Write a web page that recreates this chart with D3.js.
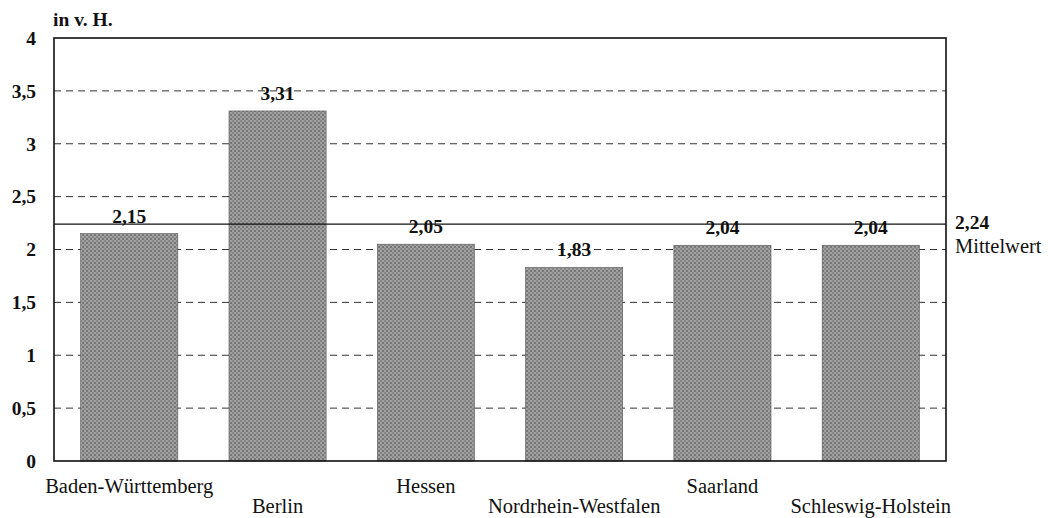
<!DOCTYPE html>
<html>
<head>
<meta charset="utf-8">
<script src="https://cdn.jsdelivr.net/npm/d3@7"></script>
<style>
  body { margin: 0; background: #fff; }
  text { font-family: "Liberation Serif", "Times New Roman", serif; fill: #111; }
</style>
</head>
<body>
<svg id="chart" width="1048" height="518"></svg>
<script>
const categories = ["Baden-Württemberg", "Berlin", "Hessen", "Nordrhein-Westfalen", "Saarland", "Schleswig-Holstein"]
const values = [2.15, 3.31, 2.05, 1.83, 2.04, 2.04]
const meanValue = 2.24
const yTicks = [0, 0.5, 1, 1.5, 2, 2.5, 3, 3.5, 4]

const fmt = v => String(v).replace(".", ",")

const margin = {top: 38, right: 102, bottom: 57, left: 54}
const width = 1048 - margin.left - margin.right
const height = 518 - margin.top - margin.bottom

const svg = d3.select("#chart")

// dithered grey fill like the printed original
const defs = svg.append("defs")
const pat = defs.append("pattern")
  .attr("id", "dither")
  .attr("width", 4).attr("height", 4)
  .attr("patternUnits", "userSpaceOnUse")
pat.append("rect").attr("width", 4).attr("height", 4).attr("fill", "#a0a0a0")
pat.append("rect").attr("width", 2).attr("height", 2).attr("fill", "#777")
pat.append("rect").attr("x", 2).attr("y", 2).attr("width", 2).attr("height", 2).attr("fill", "#868686")

const g = svg.append("g").attr("transform", `translate(${margin.left},${margin.top})`)

const x = d3.scaleBand().domain(categories).range([0, width]).paddingInner(0.345).paddingOuter(0.18)
const y = d3.scaleLinear().domain([0, 4]).range([height, 0])

// dashed grid
g.selectAll(".grid")
  .data(yTicks.filter(t => t > 0 && t < 4))
  .join("line")
  .attr("x1", 0).attr("x2", width)
  .attr("y1", d => y(d)).attr("y2", d => y(d))
  .attr("stroke", "#333")
  .attr("stroke-width", 1)
  .attr("stroke-dasharray", "7,5")

// bars
g.selectAll(".bar")
  .data(values)
  .join("rect")
  .attr("x", (d, i) => x(categories[i]))
  .attr("y", d => y(d))
  .attr("width", x.bandwidth())
  .attr("height", d => height - y(d))
  .attr("fill", "url(#dither)")
  .attr("stroke", "#555")
  .attr("stroke-width", 0.6)

// mean line
g.append("line")
  .attr("x1", 0).attr("x2", width)
  .attr("y1", y(meanValue)).attr("y2", y(meanValue))
  .attr("stroke", "#111").attr("stroke-width", 1.2)

// frame
g.append("rect")
  .attr("width", width).attr("height", height)
  .attr("fill", "none").attr("stroke", "#111").attr("stroke-width", 1.6)

// value labels
g.selectAll(".val")
  .data(values)
  .join("text")
  .attr("x", (d, i) => x(categories[i]) + x.bandwidth() / 2)
  .attr("y", d => y(d) - 11)
  .attr("text-anchor", "middle")
  .style("font-size", "19.5px")
  .style("font-weight", "bold")
  .text(d => fmt(d))

// y axis labels
const yAxis = g.append("g").call(d3.axisLeft(y).tickValues(yTicks).tickSize(0).tickPadding(18).tickFormat(fmt))
yAxis.select(".domain").remove()
yAxis.selectAll("text")
  .style("font-size", "19.5px")
  .style("font-weight", "bold")
  .attr("fill", "#111")

// x labels, staggered
const xAxis = g.append("g").attr("transform", `translate(0,${height})`)
  .call(d3.axisBottom(x).tickSize(0).tickPadding(0))
xAxis.select(".domain").remove()
xAxis.selectAll("text")
  .style("font-size", "20.5px")
  .attr("fill", "#111")
  .attr("dy", null)
  .attr("y", (d, i) => i % 2 === 0 ? 32 : 52)

// unit label
svg.append("text")
  .attr("x", 53).attr("y", 26)
  .style("font-size", "19.5px")
  .style("font-weight", "bold")
  .text("in v. H.")

// mean labels
svg.append("text")
  .attr("x", margin.left + width + 9).attr("y", margin.top + y(meanValue) + 5)
  .style("font-size", "19.5px").style("font-weight", "bold")
  .text(fmt(meanValue))
svg.append("text")
  .attr("x", margin.left + width + 9).attr("y", margin.top + y(meanValue) + 29)
  .style("font-size", "20.5px")
  .text("Mittelwert")
</script>
</body>
</html>
